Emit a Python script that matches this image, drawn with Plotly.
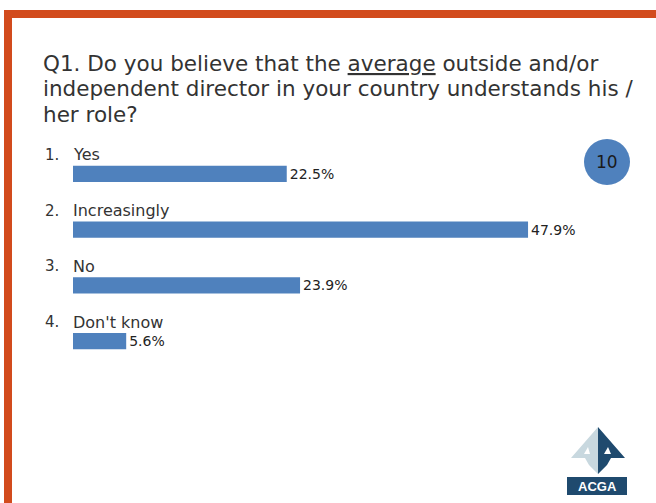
import plotly.graph_objects as go

categories = ["Yes", "Increasingly", "No", "Don't know"]
numbers = ["1.", "2.", "3.", "4."]
values = [22.5, 47.9, 23.9, 5.6]
value_labels = ["22.5%", "47.9%", "23.9%", "5.6%"]
title_lines = ["Q1. Do you believe that the <u>average</u> outside and/or",
               "independent director in your country understands his /",
               "her role?"]
badge_text = "10"
logo_text = "ACGA"

FIG_W, FIG_H = 656, 503
ML, MT = 73, 146
PW, PH = 570, 223
MR = FIG_W - ML - PW
MB = FIG_H - MT - PH

def px(x):
    return (x - ML) / PW

def py(y):
    return 1 - (y - MT) / PH

FONT = "DejaVu Sans"
BAR = "#4F81BD"
ORANGE = "#D24B1D"

ypos = list(range(len(categories)))

fig = go.Figure()
fig.add_trace(go.Bar(
    x=values, y=ypos, orientation="h",
    marker=dict(color=BAR, line=dict(width=0)),
    width=0.29,
    text=value_labels, textposition="outside",
    textfont=dict(family=FONT, size=14, color="#222222"),
    cliponaxis=False, hoverinfo="skip",
))

annotations = []
for i, (n, c) in enumerate(zip(numbers, categories)):
    annotations.append(dict(x=0, y=i, xref="x", yref="y", text=c, showarrow=False,
                            xanchor="left", yanchor="middle", yshift=19, xshift=-2,
                            font=dict(family=FONT, size=16, color="#333333")))
    annotations.append(dict(x=0, y=i, xref="x", yref="y", text=n, showarrow=False,
                            xanchor="left", yanchor="middle", yshift=19, xshift=-30,
                            font=dict(family=FONT, size=15, color="#333333")))

# badge
annotations.append(dict(x=px(607), y=py(162), xref="paper", yref="paper", text=badge_text,
                        showarrow=False, xanchor="center", yanchor="middle",
                        font=dict(family=FONT, size=17, color="#1a1a1a")))
# logo text
annotations.append(dict(x=px(597), y=py(486), xref="paper", yref="paper", text="<b>" + logo_text + "</b>",
                        showarrow=False, xanchor="center", yanchor="middle",
                        font=dict(family="Liberation Sans", size=13, color="white")))
# title, one annotation per line
for k, (line, yc) in enumerate(zip(title_lines, [63, 89, 114])):
    annotations.append(dict(x=px(41), y=py(yc), xref="paper", yref="paper", text=line,
                            showarrow=False, xanchor="left", yanchor="middle", align="left",
                            font=dict(family=FONT, size=21.5, color="#333333")))

shapes = []
# orange frame
shapes.append(dict(type="rect", xref="paper", yref="paper", x0=px(4), x1=px(660), y0=py(18), y1=py(10),
                   fillcolor=ORANGE, line=dict(width=0), layer="below"))
shapes.append(dict(type="rect", xref="paper", yref="paper", x0=px(4), x1=px(12), y0=py(510), y1=py(10),
                   fillcolor=ORANGE, line=dict(width=0), layer="below"))
# badge circle
shapes.append(dict(type="circle", xref="paper", yref="paper", x0=px(584), x1=px(630), y0=py(185), y1=py(139),
                   fillcolor=BAR, line=dict(width=0), layer="below"))
# logo
shapes.append(dict(type="rect", xref="paper", yref="paper", x0=px(567), x1=px(627), y0=py(495), y1=py(477),
                   fillcolor="#1F4A6E", line=dict(width=0)))

def path(points):
    return "M " + " L ".join(f"{px(a)},{py(b)}" for a, b in points) + " Z"

shapes.append(dict(type="path", xref="paper", yref="paper",
                   path=path([(598, 427), (571, 458), (585, 458), (589, 465), (598, 474)]),
                   fillcolor="#C8D8DF", line=dict(width=0)))
shapes.append(dict(type="path", xref="paper", yref="paper",
                   path=path([(598, 427), (625, 458), (611, 458), (607, 465), (598, 474)]),
                   fillcolor="#1F4A6E", line=dict(width=0)))
shapes.append(dict(type="path", xref="paper", yref="paper",
                   path=path([(588, 447), (584, 454), (590, 454)]),
                   fillcolor="white", line=dict(width=0)))
shapes.append(dict(type="path", xref="paper", yref="paper",
                   path=path([(608, 447), (604, 454), (611, 454)]),
                   fillcolor="white", line=dict(width=0)))

fig.update_layout(
    width=FIG_W, height=FIG_H,
    margin=dict(l=ML, r=MR, t=MT, b=MB, pad=0),
    paper_bgcolor="white", plot_bgcolor="white",
    showlegend=False,
    xaxis=dict(range=[0, 60], visible=False, showgrid=False, zeroline=False),
    yaxis=dict(range=[3.5, -0.5], visible=False, showgrid=False, zeroline=False),
    annotations=annotations,
    shapes=shapes,
)

fig.write_html("out.html", config={"displayModeBar": False},
               post_script="document.body.style.margin='0';document.body.style.overflow='hidden';")
